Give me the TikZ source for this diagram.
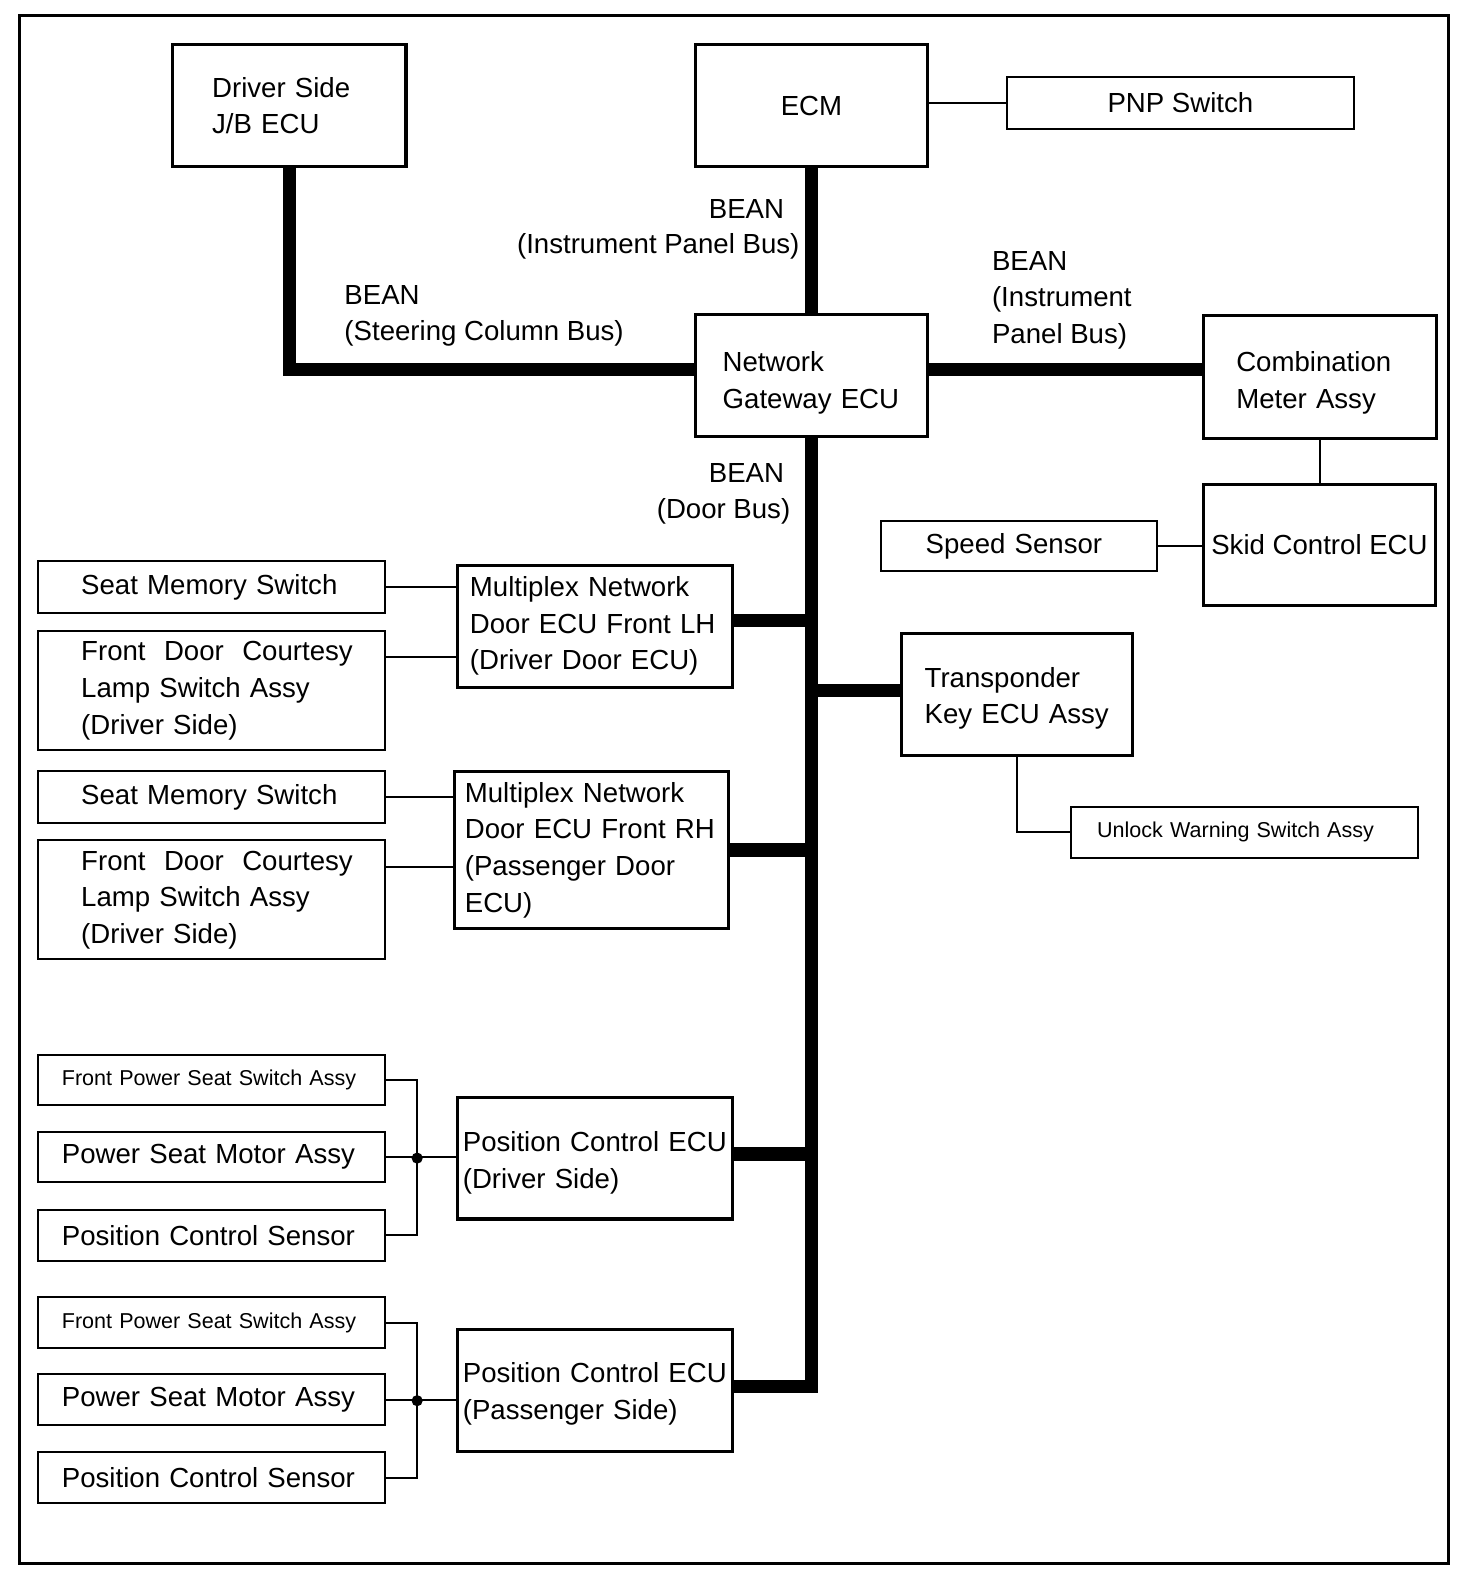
\documentclass[tikz,border=0pt]{standalone}
\usepackage{fontspec}
\setmainfont{Liberation Sans}
\usetikzlibrary{calc}

\begin{document}
\begin{tikzpicture}[x=0.5pt, y=-0.5pt,
        box/.style={draw, line width=1.5pt, inner sep=0pt, font=\fontsize{13.6}{18}\selectfont},
        sbox/.style={box, line width=1pt},
        small/.style={font=\fontsize{10.6}{14}\selectfont},
        lft/.style={text width=#1, align=left},
        lbl/.style={inner sep=0pt, align=left, font=\fontsize{13.6}{18}\selectfont},
        bus/.style={line width=6.5pt},
        wire/.style={line width=1pt}]
        \useasboundingbox (0, 0) rectangle (1450.2, 1568.5);

        % Frame
        \draw[line width=1.5pt] (19, 15) rectangle (1427, 1540);

        % Top row
        \node[box, minimum width=115pt, minimum height=60pt, lft=76pt] (jb) at (285, 104) {Driver Side\\J/B ECU};
        \node[box, minimum width=114.5pt, minimum height=60pt] (ecm) at (799.5, 104) {ECM};
        \node[sbox, minimum width=171pt, minimum height=25.5pt] (pnp) at (1163, 101.5) {PNP Switch};

        % Gateway and meter side
        \node[box, minimum width=114.5pt, minimum height=60pt, lft=87.5pt, text height=16.8pt] (gw) at (799.5, 370) {Network\\Gateway ECU};
        \node[box, minimum width=114.5pt, minimum height=60.5pt, lft=82.5pt, text height=15.8pt] (cm) at (1300.5, 371.5) {Combination\\Meter Assy};
        \node[box, minimum width=114pt, minimum height=60pt] (skid) at (1300, 537) {Skid Control ECU};
        \node[sbox, minimum width=136pt, minimum height=25pt, lft=92pt] (speed) at (1004, 538) {Speed Sensor};
        \node[box, minimum width=114pt, minimum height=60pt, lft=91pt, text height=13.8pt] (tk) at (1002, 684) {Transponder\\Key ECU Assy};
        \node[sbox, small, minimum width=171pt, minimum height=25pt, lft=145pt] (unlock) at (1226, 820) {Unlock Warning Switch Assy};

        % Doors
        %% LH
        \node[sbox, minimum width=171pt, minimum height=25.5pt, lft=128pt] (sms1) at (208, 578.5) {Seat Memory Switch};
        \node[sbox, minimum width=171pt, minimum height=58.5pt, lft=128pt] (fdc1) at (208, 680.5) {\mbox{Front~~Door~~Courtesy}\\Lamp Switch Assy\\(Driver Side)};
        \node[box, minimum width=135.5pt, minimum height=60pt, lft=123.5pt] (mlh) at (586.5, 617) {Multiplex Network\\Door ECU Front LH\\(Driver Door ECU)};
        %% RH
        \node[sbox, minimum width=171pt, minimum height=25.5pt, lft=128pt] (sms2) at (208, 785.5) {Seat Memory Switch};
        \node[sbox, minimum width=171pt, minimum height=58.5pt, lft=128pt] (fdc2) at (208, 886.5) {\mbox{Front~~Door~~Courtesy}\\Lamp Switch Assy\\(Driver Side)};
        \node[box, minimum width=135pt, minimum height=77.5pt, lft=125pt] (mrh) at (583, 837.5) {Multiplex Network\\\mbox{Door ECU Front RH}\\(Passenger Door\\ECU)};

        % Seats
        %% Driver
        \node[sbox, small, minimum width=171pt, minimum height=25pt, lft=147pt] (fps1) at (208, 1064) {Front Power Seat Switch Assy};
        \node[sbox, minimum width=171pt, minimum height=25pt, lft=147pt] (psm1) at (208, 1140) {Power Seat Motor Assy};
        \node[sbox, minimum width=171pt, minimum height=25pt, lft=147pt] (pcs1) at (208, 1217) {Position Control Sensor};
        \node[box, minimum width=135.5pt, minimum height=60pt, lft=130.5pt, text height=14.3pt] (pcd) at (586.5, 1141) {Position Control ECU\\(Driver Side)};
        %% Passenger
        \node[sbox, small, minimum width=171pt, minimum height=25pt, lft=147pt] (fps2) at (208, 1303) {Front Power Seat Switch Assy};
        \node[sbox, minimum width=171pt, minimum height=25pt, lft=147pt] (psm2) at (208, 1379) {Power Seat Motor Assy};
        \node[sbox, minimum width=171pt, minimum height=25pt, lft=147pt] (pcs2) at (208, 1456) {Position Control Sensor};
        \node[box, minimum width=135.5pt, minimum height=60pt, lft=130.5pt, text height=13.3pt] (pcp) at (586.5, 1370) {Position Control ECU\\(Passenger Side)};

        % Bus
        \draw[bus] (jb.south) |- ([yshift=3pt]gw.west);
        \draw[bus] (ecm) -- (gw);
        \draw[bus] ([yshift=3pt]gw.east) -- ([yshift=3pt]gw.east -| cm.west);
        \draw[bus] (gw.south) |- ([yshift=2pt]pcp.east);
        \draw[bus] ([yshift=3pt]mlh.east) -- ([yshift=3pt]mlh.east -| gw.south);
        \draw[bus] ([yshift=2pt]tk.west) -- ([yshift=2pt]tk.west -| gw.south);
        \draw[bus] (mrh.east) -- (mrh.east -| gw.south);
        \draw[bus] ([yshift=2pt]pcd.east) -- ([yshift=2pt]pcd.east -| gw.south);

        % Wires
        \draw[wire] (ecm.east |- pnp.west) -- (pnp.west);
        \draw[wire] (cm.south) -- (cm.south |- skid.north);
        \draw[wire] (speed) -- (speed -| skid.west);
        \draw[wire] (tk.south) |- (unlock.west);
        \draw[wire] (sms1.east) -- (sms1.east -| mlh.west);
        \draw[wire] ([yshift=16.75pt]fdc1.east) -- ([yshift=16.75pt]fdc1.east -| mlh.west);
        \draw[wire] (sms2.east) -- (sms2.east -| mrh.west);
        \draw[wire] ([yshift=16.25pt]fdc2.east) -- ([yshift=16.25pt]fdc2.east -| mrh.west);

        \coordinate (j1) at (411, 1141);
        \draw[wire] (fps1.east) -| (j1) |- (pcs1.east);
        \draw[wire] (psm1.east) -- (psm1.east -| pcd.west);
        \fill (j1) circle (2.75pt);

        \coordinate (j2) at (411, 1380);
        \draw[wire] (fps2.east) -| (j2) |- (pcs2.east);
        \draw[wire] (psm2.east) -- (psm2.east -| pcp.west);
        \fill (j2) circle (2.75pt);

        % Bus names
        \node[lbl, anchor=west] (ipa) at (698, 206) {BEAN};
        \node[lbl, anchor=east] (ipb) at (788, 243) {(Instrument Panel Bus)};
        \node[lbl, anchor=west] (sc) at (339, 311) {BEAN\\(Steering Column Bus)};
        \node[lbl, anchor=west] (ipc) at (977, 295.5) {BEAN\\(Instrument\\Panel Bus)};
        \node[lbl, anchor=west] (da) at (698, 466) {BEAN};
        \node[lbl, anchor=east] (db) at (779, 504) {(Door Bus)};
    \end{tikzpicture}
\end{document}
